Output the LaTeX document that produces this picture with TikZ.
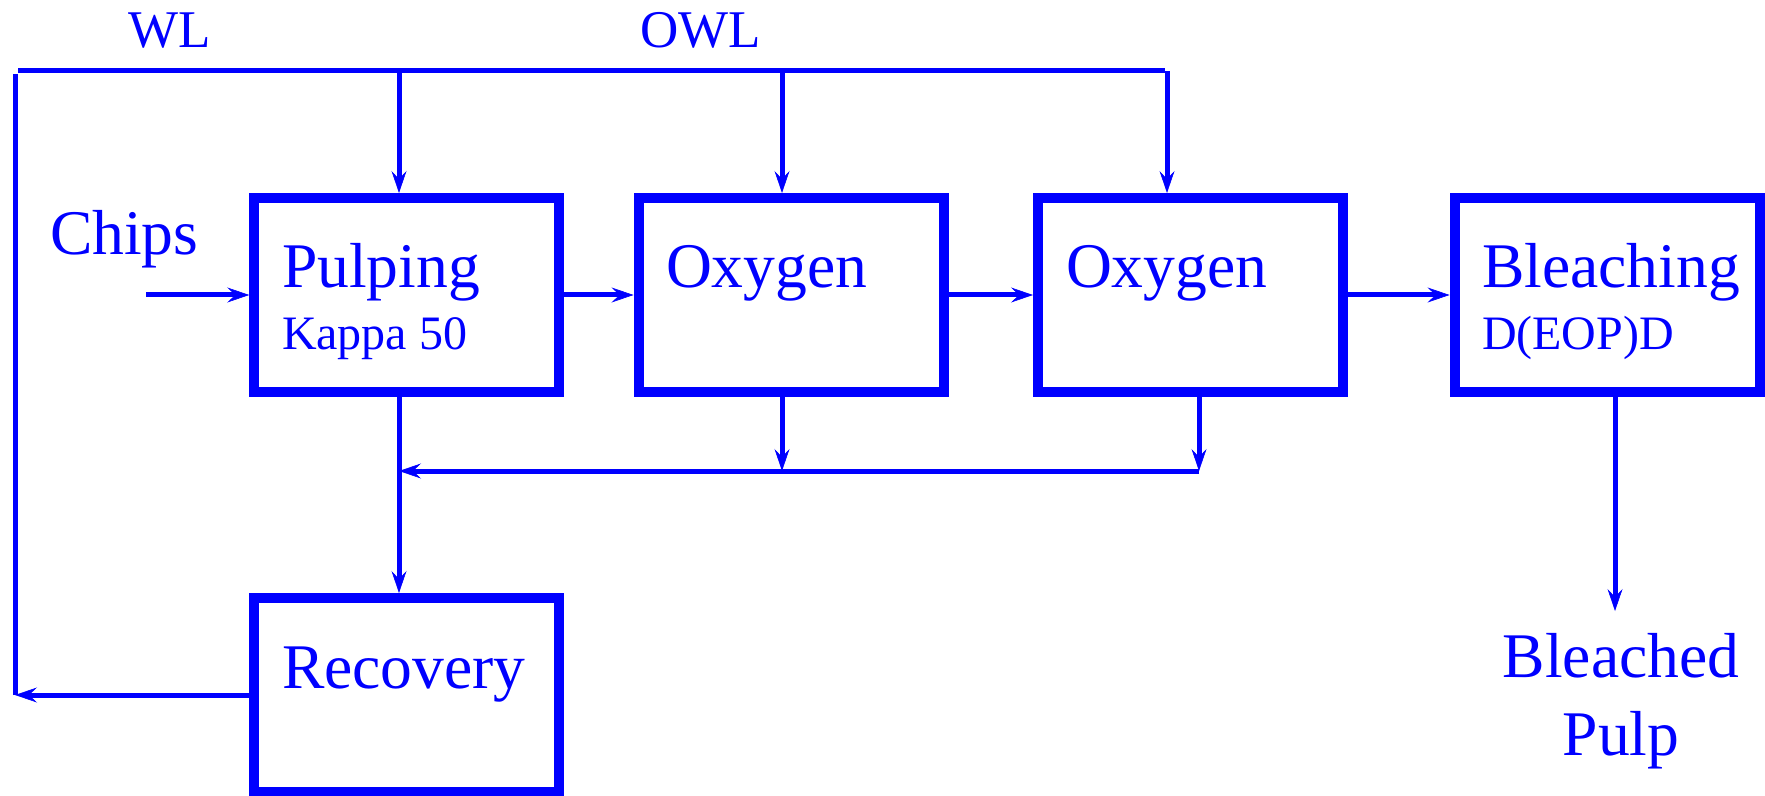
\documentclass[tikz,border=0pt]{standalone}
\usepackage{fontspec}
\setmainfont{Liberation Serif}
\usetikzlibrary{arrows.meta}
\begin{document}
\begin{tikzpicture}[x=0.5pt,y=-0.5pt,
  every node/.style={text=blue, inner sep=0pt, outer sep=0pt},
  box/.style={draw=blue, line width=5pt, minimum width=152.5pt, minimum height=97pt, outer sep=2.5pt},
  conn/.style={draw=blue, line width=2.5pt},
  arr/.style={conn, -{Stealth[length=11pt,width=7.5pt,inset=4pt,line width=0.3pt]}},
  big/.style={font=\fontsize{31.8}{36}\selectfont},
  mid/.style={font=\fontsize{26.5}{30}\selectfont},
  small/.style={font=\fontsize{24}{28}\selectfont},
]
\useasboundingbox (0,0) rectangle (1765,796);
\node[box] (pulp) at (406.75,295) {};
\node[box] (oxa) at (791,295) {};
\node[box] (oxb) at (1190.5,295) {};
\node[box] (blea) at (1607,295) {};
\node[box] (rec) at (406.75,695) {};

\node[big, anchor=base west] (tpulp) at (282,288) {Pulping};
\node[small, anchor=base west] (tkappa) at (282,350) {Kappa 50};
\node[big, anchor=base west] (toxa) at (666,288) {Oxygen};
\node[big, anchor=base west] (toxb) at (1066,288) {Oxygen};
\node[big, anchor=base west] (tblea) at (1482,288) {Bleaching};
\node[small, anchor=base west] (tdeop) at (1482,350) {D(EOP)D};
\node[big, anchor=base west] (trec) at (282,688) {Recovery};
\node[big, anchor=base west] (tchips) at (50,255) {Chips};
\node[mid, anchor=base] (twl) at (170,48) {WL};
\node[mid, anchor=base] (towl) at (701,48) {OWL};
\node[big, anchor=base] (tbp1) at (1621,677) {Bleached};
\node[big, anchor=base] (tbp2) at (1621,755) {Pulp};

\coordinate (cL) at (15,74);
\coordinate (cT) at (18,71);
\coordinate (cR) at (1165,71);
\coordinate (xa) at (399,71);
\coordinate (xb) at (782,71);
\coordinate (xc) at (1167,71);
\coordinate (chin) at (146,295);
\coordinate (xd) at (1199,471);
\coordinate (bout) at (1615,611);

\draw[conn] (cL |- rec.west) -- (cL);
\draw[conn] (cT) -- (cR);
\draw[arr] (xa) -- (xa |- pulp.north);
\draw[arr] (xb) -- (xb |- oxa.north);
\draw[arr] (xc) -- (xc |- oxb.north);
\draw[arr] (chin) -- (pulp.west);
\draw[arr] (pulp.east) -- (oxa.west);
\draw[arr] (oxa.east) -- (oxb.west);
\draw[arr] (oxb.east) -- (blea.west);
\draw[arr] (xa |- pulp.south) -- (xa |- rec.north);
\draw[arr] (xb |- oxa.south) -- (xb |- xd);
\draw[arr] (xd |- oxb.south) -- (xd);
\draw[arr] (xd) -- (xa |- xd);
\draw[arr] (rec.west) -- (cL |- rec.west);
\draw[arr] (bout |- blea.south) -- (bout);
\end{tikzpicture}
\end{document}
